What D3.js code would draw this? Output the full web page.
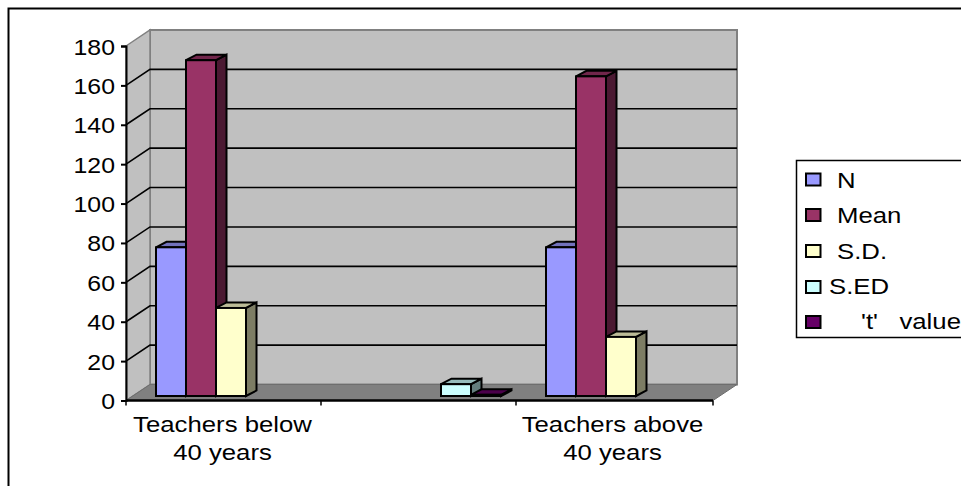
<!DOCTYPE html>
<html><head><meta charset="utf-8">
<script src="https://cdnjs.cloudflare.com/ajax/libs/d3/7.8.5/d3.min.js"></script>
<style>html,body{margin:0;padding:0;background:#fff;overflow:hidden}svg{display:block}
text{font-family:"Liberation Sans",Arial,sans-serif;font-size:22px;fill:#000;white-space:pre}</style>
</head><body><div id="chart"></div>
<script>
const categories = ["Teachers below|40 years", "", "Teachers above|40 years"];
const seriesNames = ["N", "Mean", "S.D.", "S.ED", "'t'   value"];
const seriesColors = ["#9999FF", "#993366", "#FFFFCC", "#CCFFFF", "#660066"];
const valuesN = [75.5, null, 75.5];
const valuesMean = [170.5, null, 162.3];
const valuesSD = [44.7, null, 30];
const valuesSED = [null, 6, null];
const valuesT = [null, 0.6, null];
const yTicks = [0, 20, 40, 60, 80, 100, 120, 140, 160, 180];

const allValues = [valuesN, valuesMean, valuesSD, valuesSED, valuesT];
const W = 961, H = 486, stretch = 1.17, tickStretch = 1.13;
const svg = d3.select("#chart").append("svg").attr("width", W).attr("height", H);

const y = d3.scaleLinear().domain([0, 180]).range([400.5, 46]);
const x0 = d3.scaleBand().domain(d3.range(categories.length)).range([126, 711]);
const barW = 30, groupW = barW * seriesNames.length;
const xBar = (c, s) => x0(c) + (x0.bandwidth() - groupW) / 2 + s * barW;
const dx = 24, dy = -16;             // depth of the plot box
const bx = 7.5, by = -4.5;           // bar front offset inside the box
const sx = 10.5, sy = -5.5;          // bar depth
const poly = p => p.map(q => q.join(",")).join(" ");
const shade = (c, k) => d3.rgb(c).darker(k).formatHex();

// outer frame
svg.append("path").attr("d", `M8.5,${H} V8.5 H${W}`).attr("fill", "none").attr("stroke", "#000").attr("stroke-width", 2);

const xL = x0.range()[0], xR = 713, y0 = y(0), yT = y(180);
// walls
svg.append("polygon").attr("points", poly([[xL + dx, yT + dy], [xR + dx, yT + dy], [xR + dx, y0 + dy], [xL + dx, y0 + dy]]))
  .attr("fill", "#C0C0C0").attr("stroke", "#808080").attr("stroke-width", 2);
svg.append("polygon").attr("points", poly([[xL, yT], [xL + dx, yT + dy], [xL + dx, y0 + dy], [xL, y0]]))
  .attr("fill", "#C0C0C0").attr("stroke", "#808080").attr("stroke-width", 1.5);
// grid
yTicks.filter(t => t > 0 && t < 180).forEach(t => {
  svg.append("path").attr("d", `M${xL},${y(t)} L${xL + dx},${y(t) + dy} H${xR + dx}`)
    .attr("fill", "none").attr("stroke", "#000").attr("stroke-width", 1.6);
});
// floor
svg.append("polygon").attr("points", poly([[xL, y0], [xL + dx, y0 + dy], [xR + dx, y0 + dy], [xR, y0]]))
  .attr("fill", "#808080").attr("stroke", "#6e6e6e").attr("stroke-width", 1);

// bars
categories.forEach((cat, c) => {
  seriesNames.forEach((name, s) => {
    const v = allValues[s][c];
    if (v === null) return;
    const col = seriesColors[s];
    const l = xBar(c, s) + bx, r = l + barW, b = y(0) + by, t = y(v) + by;
    const g = svg.append("g").attr("stroke", "#000").attr("stroke-width", 2).attr("stroke-linejoin", "miter");
    g.append("polygon").attr("points", poly([[r, t], [r + sx, t + sy], [r + sx, b + sy], [r, b]])).attr("fill", shade(col, 2));
    g.append("polygon").attr("points", poly([[l, t], [l + sx, t + sy], [r + sx, t + sy], [r, t]])).attr("fill", shade(col, 0.85));
    g.append("rect").attr("x", l).attr("y", t).attr("width", barW).attr("height", b - t).attr("fill", col);
  });
});

// axes
const yAxis = d3.axisLeft(y).tickValues(yTicks).tickSize(5).tickPadding(6);
const gy = svg.append("g").attr("transform", `translate(${xL},0)`).call(yAxis);
gy.selectAll("path,line").attr("stroke", "#000").attr("stroke-width", 2);
gy.selectAll("text").attr("x", null).attr("dy", null).attr("text-anchor", "end")
  .attr("transform", `translate(-11,8) scale(${tickStretch},1)`);
gy.attr("font-size", null).attr("font-family", null);

const xEdges = [126, 321, 516, xR];
const gx = svg.append("g").attr("transform", `translate(0,${y0})`);
gx.append("line").attr("x1", xL).attr("x2", xR).attr("stroke", "#000").attr("stroke-width", 2.4);
gx.selectAll("line.t").data(xEdges).enter().append("line").attr("class", "t")
  .attr("x1", d => d).attr("x2", d => d).attr("y1", 0).attr("y2", 5).attr("stroke", "#000").attr("stroke-width", 1.5);

categories.forEach((cat, c) => {
  if (!cat) return;
  const cx = x0(c) + x0.bandwidth() / 2 - 1;
  cat.split("|").forEach((line, i) => {
    svg.append("text").attr("text-anchor", "middle")
      .attr("transform", `translate(${cx},${432 + i * 28}) scale(${stretch},1)`).text(line);
  });
});

// legend
svg.append("path").attr("d", `M${W},160.5 H796.5 V337.5 H${W}`).attr("fill", "#fff").attr("stroke", "#000").attr("stroke-width", 1.5);
const legendLabelX = [837, 837, 837, 829, 861];
const legendTop = [173.5, 209, 245, 281, 316];
const legendBase = [188, 223, 259, 294, 329];
seriesNames.forEach((name, s) => {
  svg.append("rect").attr("x", 806).attr("y", legendTop[s]).attr("width", 14.5).attr("height", 12)
    .attr("fill", seriesColors[s]).attr("stroke", "#000").attr("stroke-width", 2);
  svg.append("text").attr("transform", `translate(${legendLabelX[s]},${legendBase[s]}) scale(${stretch},1)`).text(name);
});
</script></body></html>
